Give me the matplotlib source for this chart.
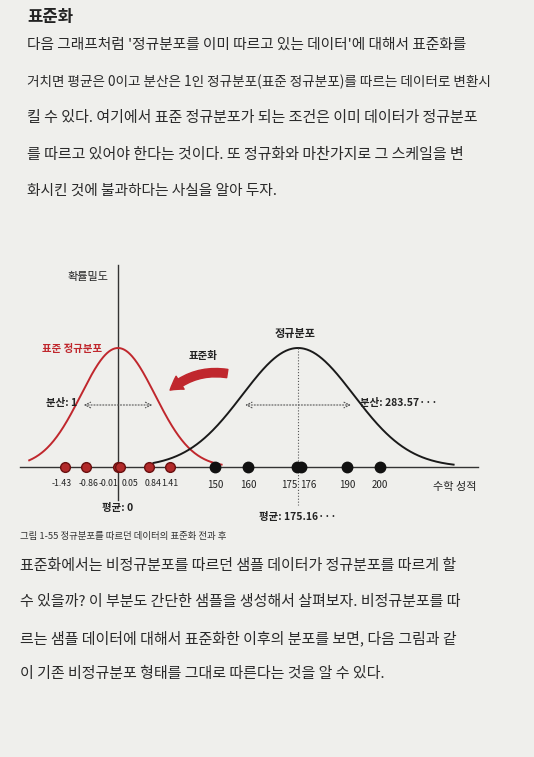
import numpy as np
import matplotlib.pyplot as plt
from matplotlib.patches import FancyArrowPatch

plt.rcParams['font.family'] = ['Noto Sans CJK KR', 'DejaVu Sans']

red_values = [-1.43, -0.86, -0.01, 0.05, 0.84, 1.41]
red_labels = ['-1.43', '-0.86', '-0.01', '0.05', '0.84', '1.41']
black_values = [150, 160, 175, 176, 190, 200]
black_labels = ['150', '160', '175', '176', '190', '200']
black_mean, black_var = 175.16, 283.57

fig = plt.figure(figsize=(5.34, 7.57), dpi=100)
fig.patch.set_facecolor('#efefec')
ax = fig.add_axes([0, 0, 1, 1])
ax.set_xlim(0, 534); ax.set_ylim(757, 0); ax.axis('off')

ax.text(27, 17, '표준화', fontsize=12, weight='bold', color='#222', va='center')
lines = [
    "다음 그래프처럼 '정규분포를 이미 따르고 있는 데이터'에 대해서 표준화를",
    "거치면 평균은 0이고 분산은 1인 정규분포(표준 정규분포)를 따르는 데이터로 변환시",
    "킬 수 있다. 여기에서 표준 정규분포가 되는 조건은 이미 데이터가 정규분포",
    "를 따르고 있어야 한다는 것이다. 또 정규화와 마찬가지로 그 스케일을 변",
    "화시킨 것에 불과하다는 사실을 알아 두자.",
]
sizes = [10.6, 9.8, 10.8, 10.8, 10.6]
for i, t in enumerate(lines):
    ax.text(27, 45 + i * 36.5, t, fontsize=sizes[i], color='#2a2a2a', va='center')

base = 467
rc, rs = 118, 37
bs = 3.3
bc = 298
peak = 348
amp = base - peak

ax.plot([20, 478], [base, base], color='#333', lw=1)
ax.plot([rc, rc], [265, 500], color='#333', lw=1)
ax.text(rc - 50, 277, '확률밀도', fontsize=8, color='#222', va='center')

xr = np.linspace(-2.4, 2.8, 300)
ax.plot(rc + xr * rs, base - amp * np.exp(-xr**2 / 2), color='#c0272d', lw=1.4)
sd = np.sqrt(black_var)
xb = np.linspace(black_mean - 2.6 * sd, black_mean + 2.8 * sd, 300)
ax.plot(bc + (xb - black_mean) * bs, base - amp * np.exp(-((xb - black_mean) / sd)**2 / 2),
        color='#1a1a1a', lw=1.4)

yv = 405
ax.annotate('', xy=(rc - rs, yv), xytext=(rc + rs, yv),
            arrowprops=dict(arrowstyle='<->', ls=':', color='#555', lw=0.8))
ax.annotate('', xy=(bc - sd * bs, yv), xytext=(bc + sd * bs, yv),
            arrowprops=dict(arrowstyle='<->', ls=':', color='#555', lw=0.8))
ax.plot([bc, bc], [peak, 505], ls=':', color='#555', lw=0.8)
ax.text(rc - 72, 403, '분산: 1', fontsize=7.5, weight='bold', color='#222', va='center')
ax.text(bc + 62, 403, '분산: 283.57···', fontsize=7.5, weight='bold', color='#222', va='center')
ax.text(rc - 76, 349, '표준 정규분포', fontsize=7.5, weight='bold', color='#c0272d', va='center')
ax.text(bc - 3, 334, '정규분포', fontsize=8, weight='bold', color='#222', ha='center', va='center')
ax.text(203, 356, '표준화', fontsize=7.5, weight='bold', color='#222', ha='center', va='center')
ax.add_patch(FancyArrowPatch((230, 374), (168, 392), connectionstyle='arc3,rad=0.25',
                             arrowstyle='simple,head_width=11,head_length=9,tail_width=6',
                             color='#c0272d'))

red_nudge = {'-1.43': -3, '-0.86': 2, '-0.01': -9, '0.05': 10, '0.84': 4}
for v, l in zip(red_values, red_labels):
    x = rc + v * rs
    ax.plot(x, base, 'o', ms=7, color='#b22a2a', mec='#6a1010')
    ax.text(x + red_nudge.get(l, 0), base + 16, l, fontsize=6.3, ha='center', va='center', color='#222')
black_nudge = {'175': -8, '176': 8}
for v, l in zip(black_values, black_labels):
    x = bc + (v - black_mean) * bs
    ax.plot(x, base, 'o', ms=7.5, color='#111')
    ax.text(x + black_nudge.get(l, 0), base + 18, l, fontsize=7, ha='center', va='center', color='#222')
ax.text(455, base + 20, '수학 성적', fontsize=8, ha='center', va='center', color='#222')
ax.text(rc, 508, '평균: 0', fontsize=7.5, weight='bold', ha='center', va='center', color='#222')
ax.text(bc, 517, '평균: 175.16···', fontsize=7.5, weight='bold', ha='center', va='center', color='#222')

ax.text(20, 537, '그림 1-55 정규분포를 따르던 데이터의 표준화 전과 후', fontsize=6.8, color='#333', va='center')

lines2 = [
    "표준화에서는 비정규분포를 따르던 샘플 데이터가 정규분포를 따르게 할",
    "수 있을까? 이 부분도 간단한 샘플을 생성해서 살펴보자. 비정규분포를 따",
    "르는 샘플 데이터에 대해서 표준화한 이후의 분포를 보면, 다음 그림과 같",
    "이 기존 비정규분포 형태를 그대로 따른다는 것을 알 수 있다.",
]
for i, t in enumerate(lines2):
    ax.text(20, 566 + i * 36, t, fontsize=10.8, color='#2a2a2a', va='center')

fig.savefig('out.png', dpi=100, facecolor=fig.get_facecolor())
